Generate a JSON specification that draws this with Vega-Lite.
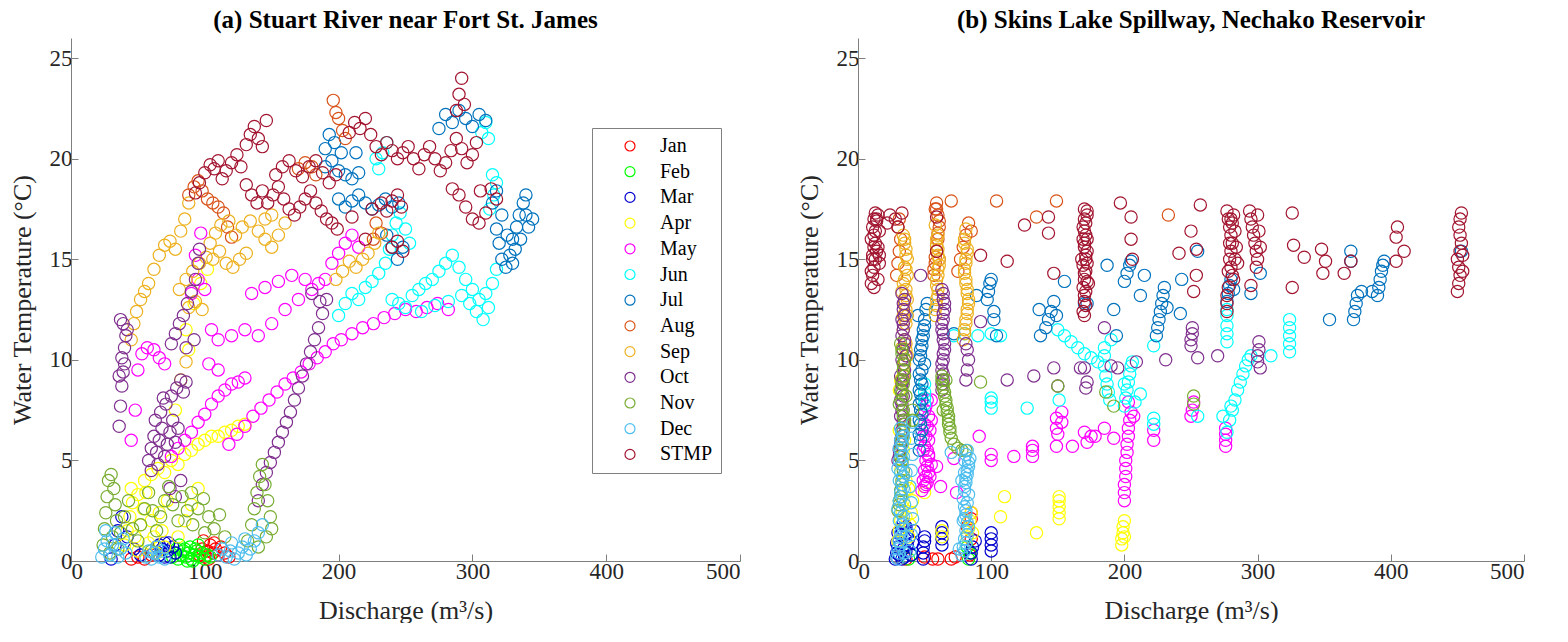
{
"$schema":"https://vega.github.io/schema/vega-lite/v6.json",
"background":"white",
"padding":{"left":9,"top":8,"right":0,"bottom":0},
"spacing":55,
"config":{"font":"Liberation Serif","view":{"stroke":null},
"axis":{"grid":false,"domainColor":"#7f7f7f","tickColor":"#7f7f7f","tickSize":-7,"labelFont":"Liberation Serif","labelFontSize":23,"labelColor":"#262626","titleFont":"Liberation Serif","titleFontSize":26,"titleFontWeight":"normal","titleColor":"#262626"},
"title":{"font":"Liberation Serif","fontSize":25,"fontWeight":"bold","color":"#000","offset":5}},
"datasets":{
"a":[
{"m":"Jan","q":96,"t":0.3},{"m":"Jan","q":98,"t":0.6},{"m":"Jan","q":100,"t":0.2},{"m":"Jan","q":102,"t":0.5},{"m":"Jan","q":104,"t":0.8},{"m":"Jan","q":106,"t":0.4},{"m":"Jan","q":108,"t":0.6},{"m":"Jan","q":110,"t":0.3},{"m":"Jan","q":112,"t":0.7},{"m":"Jan","q":99,"t":1.0},{"m":"Jan","q":103,"t":0.1},{"m":"Jan","q":107,"t":0.9},{"m":"Jan","q":45,"t":0.1},{"m":"Jan","q":50,"t":0.2},{"m":"Jan","q":55,"t":0.1},{"m":"Jan","q":115,"t":0.4},{"m":"Jan","q":118,"t":0.2},{"m":"Jan","q":60,"t":0.3},
{"m":"Feb","q":76,"t":0.2},{"m":"Feb","q":78,"t":0.4},{"m":"Feb","q":80,"t":0.1},{"m":"Feb","q":82,"t":0.3},{"m":"Feb","q":84,"t":0.5},{"m":"Feb","q":86,"t":0.2},{"m":"Feb","q":88,"t":0.4},{"m":"Feb","q":90,"t":0.1},{"m":"Feb","q":92,"t":0.3},{"m":"Feb","q":94,"t":0.5},{"m":"Feb","q":96,"t":0.2},{"m":"Feb","q":98,"t":0.4},{"m":"Feb","q":100,"t":0.1},{"m":"Feb","q":102,"t":0.3},{"m":"Feb","q":85,"t":0.6},{"m":"Feb","q":89,"t":0.7},{"m":"Feb","q":93,"t":0.6},{"m":"Feb","q":79,"t":0.6},{"m":"Feb","q":91,"t":0.0},{"m":"Feb","q":87,"t":0.0},{"m":"Feb","q":95,"t":0.8},{"m":"Feb","q":104,"t":0.2},{"m":"Feb","q":81,"t":0.8},
{"m":"Mar","q":62,"t":0.4},{"m":"Mar","q":64,"t":0.7},{"m":"Mar","q":66,"t":0.3},{"m":"Mar","q":68,"t":0.6},{"m":"Mar","q":70,"t":0.9},{"m":"Mar","q":72,"t":0.5},{"m":"Mar","q":74,"t":0.2},{"m":"Mar","q":76,"t":0.7},{"m":"Mar","q":70,"t":0.2},{"m":"Mar","q":66,"t":0.8},{"m":"Mar","q":73,"t":0.9},{"m":"Mar","q":78,"t":0.4},{"m":"Mar","q":30,"t":0.1},{"m":"Mar","q":33,"t":0.8},{"m":"Mar","q":35,"t":1.5},{"m":"Mar","q":38,"t":2.2},{"m":"Mar","q":42,"t":1.2},{"m":"Mar","q":47,"t":0.6},{"m":"Mar","q":52,"t":0.3},
{"m":"Apr","q":40,"t":0.8},{"m":"Apr","q":42,"t":1.5},{"m":"Apr","q":44,"t":2.2},{"m":"Apr","q":46,"t":2.9},{"m":"Apr","q":48,"t":1.2},{"m":"Apr","q":50,"t":0.5},{"m":"Apr","q":52,"t":1.8},{"m":"Apr","q":54,"t":2.6},{"m":"Apr","q":56,"t":3.4},{"m":"Apr","q":58,"t":0.9},{"m":"Apr","q":60,"t":2.0},{"m":"Apr","q":62,"t":1.2},{"m":"Apr","q":64,"t":0.4},{"m":"Apr","q":66,"t":2.4},{"m":"Apr","q":68,"t":1.5},{"m":"Apr","q":70,"t":0.7},{"m":"Apr","q":72,"t":3.0},{"m":"Apr","q":45,"t":3.6},{"m":"Apr","q":50,"t":3.3},{"m":"Apr","q":55,"t":4.0},{"m":"Apr","q":60,"t":4.3},{"m":"Apr","q":65,"t":4.6},{"m":"Apr","q":70,"t":4.4},{"m":"Apr","q":75,"t":5.0},{"m":"Apr","q":80,"t":4.8},{"m":"Apr","q":85,"t":5.3},{"m":"Apr","q":90,"t":5.5},{"m":"Apr","q":95,"t":5.8},{"m":"Apr","q":100,"t":6.0},{"m":"Apr","q":105,"t":6.2},{"m":"Apr","q":110,"t":6.2},{"m":"Apr","q":115,"t":6.4},{"m":"Apr","q":120,"t":6.5},{"m":"Apr","q":125,"t":6.7},{"m":"Apr","q":130,"t":6.8},{"m":"Apr","q":80,"t":1.2},{"m":"Apr","q":85,"t":2.0},{"m":"Apr","q":90,"t":2.8},{"m":"Apr","q":95,"t":3.6},{"m":"Apr","q":78,"t":7.5},{"m":"Apr","q":82,"t":9.0},{"m":"Apr","q":88,"t":10.5},{"m":"Apr","q":92,"t":12.8},{"m":"Apr","q":97,"t":13.8},{"m":"Apr","q":102,"t":14.5},{"m":"Apr","q":86,"t":11.5},
{"m":"May","q":45,"t":6.0},{"m":"May","q":48,"t":7.5},{"m":"May","q":50,"t":9.5},{"m":"May","q":53,"t":10.3},{"m":"May","q":57,"t":10.6},{"m":"May","q":62,"t":10.5},{"m":"May","q":66,"t":10.1},{"m":"May","q":70,"t":9.8},
{"m":"May","q":75,"t":5.2},{"m":"May","q":80,"t":5.6},{"m":"May","q":85,"t":6.0},{"m":"May","q":90,"t":6.4},{"m":"May","q":95,"t":6.9},{"m":"May","q":100,"t":7.3},{"m":"May","q":105,"t":7.8},{"m":"May","q":110,"t":8.2},{"m":"May","q":115,"t":8.5},{"m":"May","q":120,"t":8.8},{"m":"May","q":125,"t":8.9},{"m":"May","q":130,"t":9.1},
{"m":"May","q":118,"t":5.8},{"m":"May","q":124,"t":6.3},{"m":"May","q":130,"t":6.7},{"m":"May","q":136,"t":7.2},{"m":"May","q":142,"t":7.6},{"m":"May","q":148,"t":8.0},{"m":"May","q":154,"t":8.4},{"m":"May","q":160,"t":8.8},{"m":"May","q":166,"t":9.1},{"m":"May","q":172,"t":9.4},{"m":"May","q":178,"t":9.8},{"m":"May","q":184,"t":10.1},{"m":"May","q":190,"t":10.4},{"m":"May","q":196,"t":10.8},{"m":"May","q":202,"t":11.0},{"m":"May","q":210,"t":11.3},{"m":"May","q":218,"t":11.6},{"m":"May","q":226,"t":11.8},{"m":"May","q":234,"t":12.1},{"m":"May","q":242,"t":12.3},{"m":"May","q":250,"t":12.5},{"m":"May","q":258,"t":12.4},{"m":"May","q":266,"t":12.6},{"m":"May","q":274,"t":12.8},{"m":"May","q":282,"t":12.5},
{"m":"May","q":90,"t":13.3},{"m":"May","q":95,"t":14.0},{"m":"May","q":100,"t":13.5},{"m":"May","q":105,"t":11.5},{"m":"May","q":110,"t":11.0},{"m":"May","q":120,"t":11.2},{"m":"May","q":130,"t":11.5},{"m":"May","q":140,"t":11.2},{"m":"May","q":150,"t":11.8},{"m":"May","q":160,"t":12.5},{"m":"May","q":170,"t":13.0},{"m":"May","q":180,"t":13.5},{"m":"May","q":190,"t":14.0},{"m":"May","q":195,"t":14.8},{"m":"May","q":200,"t":15.3},{"m":"May","q":205,"t":15.8},{"m":"May","q":210,"t":16.2},{"m":"May","q":215,"t":15.6},{"m":"May","q":135,"t":13.3},{"m":"May","q":145,"t":13.6},{"m":"May","q":155,"t":13.9},{"m":"May","q":165,"t":14.2},{"m":"May","q":175,"t":14.0},{"m":"May","q":185,"t":13.8},{"m":"May","q":97,"t":16.3},{"m":"May","q":93,"t":15.2},{"m":"May","q":103,"t":9.8},{"m":"May","q":110,"t":9.5},
{"m":"Jun","q":200,"t":12.2},{"m":"Jun","q":205,"t":12.8},{"m":"Jun","q":210,"t":13.3},{"m":"Jun","q":215,"t":13.0},{"m":"Jun","q":220,"t":13.6},{"m":"Jun","q":225,"t":13.9},{"m":"Jun","q":230,"t":14.3},{"m":"Jun","q":235,"t":14.8},{"m":"Jun","q":238,"t":15.5},{"m":"Jun","q":240,"t":16.2},{"m":"Jun","q":243,"t":16.8},{"m":"Jun","q":246,"t":17.3},{"m":"Jun","q":250,"t":16.5},{"m":"Jun","q":253,"t":15.8},{"m":"Jun","q":230,"t":19.5},{"m":"Jun","q":233,"t":20.3},{"m":"Jun","q":236,"t":20.8},{"m":"Jun","q":228,"t":20.0},{"m":"Jun","q":240,"t":13.0},{"m":"Jun","q":245,"t":12.8},{"m":"Jun","q":250,"t":12.6},{"m":"Jun","q":255,"t":13.2},{"m":"Jun","q":260,"t":13.5},{"m":"Jun","q":265,"t":13.8},{"m":"Jun","q":270,"t":14.0},{"m":"Jun","q":275,"t":14.4},{"m":"Jun","q":280,"t":14.8},{"m":"Jun","q":285,"t":15.2},{"m":"Jun","q":290,"t":14.6},{"m":"Jun","q":295,"t":14.0},{"m":"Jun","q":300,"t":13.5},{"m":"Jun","q":305,"t":13.0},{"m":"Jun","q":310,"t":13.3},{"m":"Jun","q":315,"t":13.8},{"m":"Jun","q":292,"t":13.2},{"m":"Jun","q":298,"t":12.8},{"m":"Jun","q":303,"t":12.4},{"m":"Jun","q":308,"t":12.0},{"m":"Jun","q":312,"t":12.6},{"m":"Jun","q":318,"t":14.5},{"m":"Jun","q":313,"t":17.5},{"m":"Jun","q":316,"t":18.2},{"m":"Jun","q":318,"t":18.8},{"m":"Jun","q":315,"t":19.2},{"m":"Jun","q":307,"t":21.3},{"m":"Jun","q":310,"t":21.8},{"m":"Jun","q":312,"t":21.0},{"m":"Jun","q":262,"t":12.4},{"m":"Jun","q":272,"t":12.7},{"m":"Jun","q":282,"t":12.9},
{"m":"Jul","q":190,"t":20.5},{"m":"Jul","q":193,"t":21.2},{"m":"Jul","q":197,"t":20.8},{"m":"Jul","q":202,"t":20.3},{"m":"Jul","q":190,"t":19.6},{"m":"Jul","q":195,"t":19.9},{"m":"Jul","q":200,"t":19.4},{"m":"Jul","q":205,"t":19.2},{"m":"Jul","q":210,"t":19.0},{"m":"Jul","q":215,"t":19.3},{"m":"Jul","q":200,"t":18.0},{"m":"Jul","q":205,"t":17.6},{"m":"Jul","q":210,"t":17.9},{"m":"Jul","q":215,"t":18.2},{"m":"Jul","q":220,"t":17.8},{"m":"Jul","q":225,"t":17.5},{"m":"Jul","q":230,"t":17.7},{"m":"Jul","q":235,"t":18.0},{"m":"Jul","q":240,"t":17.6},{"m":"Jul","q":245,"t":17.8},{"m":"Jul","q":236,"t":16.2},{"m":"Jul","q":240,"t":15.6},{"m":"Jul","q":244,"t":15.0},{"m":"Jul","q":248,"t":15.6},{"m":"Jul","q":275,"t":21.5},{"m":"Jul","q":280,"t":22.2},{"m":"Jul","q":285,"t":21.8},{"m":"Jul","q":290,"t":22.4},{"m":"Jul","q":295,"t":22.0},{"m":"Jul","q":300,"t":21.6},{"m":"Jul","q":305,"t":22.2},{"m":"Jul","q":310,"t":21.9},{"m":"Jul","q":315,"t":17.8},{"m":"Jul","q":318,"t":16.5},{"m":"Jul","q":320,"t":15.8},{"m":"Jul","q":322,"t":15.0},{"m":"Jul","q":325,"t":14.6},{"m":"Jul","q":328,"t":15.2},{"m":"Jul","q":330,"t":16.0},{"m":"Jul","q":333,"t":16.6},{"m":"Jul","q":335,"t":17.2},{"m":"Jul","q":338,"t":17.8},{"m":"Jul","q":340,"t":17.2},{"m":"Jul","q":342,"t":16.6},{"m":"Jul","q":345,"t":17.0},{"m":"Jul","q":330,"t":14.8},{"m":"Jul","q":332,"t":15.5},{"m":"Jul","q":326,"t":16.2},{"m":"Jul","q":336,"t":16.0},{"m":"Jul","q":340,"t":18.2},{"m":"Jul","q":318,"t":18.4},{"m":"Jul","q":322,"t":17.2},{"m":"Jul","q":213,"t":20.3},
{"m":"Aug","q":196,"t":22.9},{"m":"Aug","q":198,"t":22.3},{"m":"Aug","q":200,"t":22.0},{"m":"Aug","q":203,"t":21.4},{"m":"Aug","q":205,"t":21.0},{"m":"Aug","q":88,"t":18.2},{"m":"Aug","q":92,"t":18.6},{"m":"Aug","q":95,"t":18.9},{"m":"Aug","q":98,"t":18.4},{"m":"Aug","q":102,"t":18.0},{"m":"Aug","q":106,"t":17.8},{"m":"Aug","q":110,"t":17.6},{"m":"Aug","q":114,"t":17.3},{"m":"Aug","q":117,"t":16.6},{"m":"Aug","q":120,"t":16.1},{"m":"Aug","q":170,"t":19.5},{"m":"Aug","q":175,"t":19.8},{"m":"Aug","q":180,"t":19.6},{"m":"Aug","q":183,"t":19.2},{"m":"Aug","q":228,"t":16.8},{"m":"Aug","q":232,"t":16.3},{"m":"Aug","q":226,"t":16.0},
{"m":"Sep","q":45,"t":11.0},{"m":"Sep","q":47,"t":11.8},{"m":"Sep","q":49,"t":12.4},{"m":"Sep","q":52,"t":13.0},{"m":"Sep","q":55,"t":13.4},{"m":"Sep","q":58,"t":13.8},{"m":"Sep","q":62,"t":14.5},{"m":"Sep","q":66,"t":15.2},{"m":"Sep","q":70,"t":15.7},{"m":"Sep","q":74,"t":15.9},{"m":"Sep","q":78,"t":15.5},{"m":"Sep","q":82,"t":16.4},{"m":"Sep","q":85,"t":17.0},{"m":"Sep","q":88,"t":17.8},{"m":"Sep","q":81,"t":13.5},{"m":"Sep","q":86,"t":14.0},{"m":"Sep","q":91,"t":14.4},{"m":"Sep","q":96,"t":14.8},{"m":"Sep","q":101,"t":15.1},{"m":"Sep","q":106,"t":15.0},{"m":"Sep","q":111,"t":15.4},{"m":"Sep","q":116,"t":14.8},{"m":"Sep","q":121,"t":14.6},{"m":"Sep","q":126,"t":15.0},{"m":"Sep","q":131,"t":15.3},{"m":"Sep","q":104,"t":15.8},{"m":"Sep","q":108,"t":16.3},{"m":"Sep","q":112,"t":16.7},{"m":"Sep","q":118,"t":16.9},{"m":"Sep","q":123,"t":16.2},{"m":"Sep","q":128,"t":16.6},{"m":"Sep","q":134,"t":16.9},{"m":"Sep","q":140,"t":16.4},{"m":"Sep","q":145,"t":16.0},{"m":"Sep","q":150,"t":15.6},{"m":"Sep","q":155,"t":16.2},{"m":"Sep","q":160,"t":16.8},{"m":"Sep","q":145,"t":17.0},{"m":"Sep","q":150,"t":17.2},{"m":"Sep","q":198,"t":14.0},{"m":"Sep","q":203,"t":14.4},{"m":"Sep","q":208,"t":14.9},{"m":"Sep","q":213,"t":14.6},{"m":"Sep","q":218,"t":15.0},{"m":"Sep","q":222,"t":15.3},{"m":"Sep","q":227,"t":15.8},{"m":"Sep","q":230,"t":16.3},{"m":"Sep","q":88,"t":12.6},{"m":"Sep","q":93,"t":12.9},{"m":"Sep","q":98,"t":12.5},{"m":"Sep","q":86,"t":9.9},
{"m":"Oct","q":36,"t":6.7},{"m":"Oct","q":37,"t":7.7},{"m":"Oct","q":38,"t":8.7},{"m":"Oct","q":39,"t":9.4},{"m":"Oct","q":38,"t":10.1},{"m":"Oct","q":40,"t":10.6},{"m":"Oct","q":41,"t":11.2},{"m":"Oct","q":39,"t":11.8},{"m":"Oct","q":42,"t":11.5},{"m":"Oct","q":37,"t":12.0},{"m":"Oct","q":40,"t":9.8},{"m":"Oct","q":36,"t":9.2},
{"m":"Oct","q":58,"t":5.0},{"m":"Oct","q":60,"t":5.6},{"m":"Oct","q":62,"t":6.2},{"m":"Oct","q":64,"t":5.4},{"m":"Oct","q":66,"t":6.0},{"m":"Oct","q":68,"t":6.6},{"m":"Oct","q":70,"t":5.2},{"m":"Oct","q":72,"t":5.8},{"m":"Oct","q":74,"t":6.4},{"m":"Oct","q":76,"t":7.0},{"m":"Oct","q":63,"t":7.0},{"m":"Oct","q":67,"t":7.4},{"m":"Oct","q":71,"t":7.8},{"m":"Oct","q":75,"t":8.2},{"m":"Oct","q":79,"t":8.6},{"m":"Oct","q":82,"t":9.0},{"m":"Oct","q":84,"t":8.4},{"m":"Oct","q":86,"t":8.9},{"m":"Oct","q":60,"t":4.5},{"m":"Oct","q":65,"t":4.8},{"m":"Oct","q":78,"t":5.9},{"m":"Oct","q":80,"t":6.6},{"m":"Oct","q":69,"t":8.1},{"m":"Oct","q":74,"t":3.6},{"m":"Oct","q":78,"t":3.2},{"m":"Oct","q":82,"t":4.0},
{"m":"Oct","q":75,"t":10.8},{"m":"Oct","q":78,"t":11.3},{"m":"Oct","q":81,"t":11.8},{"m":"Oct","q":84,"t":12.2},{"m":"Oct","q":87,"t":12.8},{"m":"Oct","q":90,"t":13.4},{"m":"Oct","q":93,"t":14.0},{"m":"Oct","q":95,"t":14.8},{"m":"Oct","q":96,"t":15.5},{"m":"Oct","q":86,"t":10.6},{"m":"Oct","q":92,"t":11.0},
{"m":"Oct","q":140,"t":3.0},{"m":"Oct","q":143,"t":3.8},{"m":"Oct","q":146,"t":4.4},{"m":"Oct","q":149,"t":4.9},{"m":"Oct","q":152,"t":5.4},{"m":"Oct","q":155,"t":5.9},{"m":"Oct","q":158,"t":6.4},{"m":"Oct","q":161,"t":6.9},{"m":"Oct","q":164,"t":7.4},{"m":"Oct","q":167,"t":8.0},{"m":"Oct","q":170,"t":8.6},{"m":"Oct","q":173,"t":9.2},{"m":"Oct","q":176,"t":9.8},{"m":"Oct","q":179,"t":10.4},{"m":"Oct","q":182,"t":11.0},{"m":"Oct","q":185,"t":11.6},{"m":"Oct","q":188,"t":12.3},{"m":"Oct","q":191,"t":13.0},{"m":"Oct","q":186,"t":12.9},{"m":"Oct","q":180,"t":13.3},
{"m":"Nov","q":24,"t":0.8},{"m":"Nov","q":25,"t":1.6},{"m":"Nov","q":26,"t":2.4},{"m":"Nov","q":27,"t":3.2},{"m":"Nov","q":28,"t":4.0},{"m":"Nov","q":30,"t":4.3},{"m":"Nov","q":32,"t":3.6},{"m":"Nov","q":33,"t":2.8},{"m":"Nov","q":34,"t":2.0},{"m":"Nov","q":31,"t":1.2},{"m":"Nov","q":35,"t":0.6},{"m":"Nov","q":29,"t":0.4},{"m":"Nov","q":37,"t":1.4},{"m":"Nov","q":40,"t":2.2},{"m":"Nov","q":43,"t":3.0},{"m":"Nov","q":46,"t":1.6},{"m":"Nov","q":50,"t":1.0},{"m":"Nov","q":52,"t":1.8},{"m":"Nov","q":55,"t":2.6},{"m":"Nov","q":58,"t":3.4},{"m":"Nov","q":61,"t":2.5},{"m":"Nov","q":64,"t":1.5},{"m":"Nov","q":67,"t":2.2},{"m":"Nov","q":70,"t":3.0},{"m":"Nov","q":73,"t":3.7},{"m":"Nov","q":76,"t":2.8},{"m":"Nov","q":80,"t":2.0},{"m":"Nov","q":83,"t":3.2},{"m":"Nov","q":87,"t":2.5},{"m":"Nov","q":91,"t":1.8},{"m":"Nov","q":95,"t":2.6},{"m":"Nov","q":99,"t":3.1},{"m":"Nov","q":103,"t":2.2},{"m":"Nov","q":107,"t":1.6},{"m":"Nov","q":111,"t":2.3},{"m":"Nov","q":100,"t":1.4},{"m":"Nov","q":90,"t":3.4},{"m":"Nov","q":132,"t":1.0},{"m":"Nov","q":135,"t":1.8},{"m":"Nov","q":137,"t":2.6},{"m":"Nov","q":139,"t":3.4},{"m":"Nov","q":141,"t":4.2},{"m":"Nov","q":143,"t":4.8},{"m":"Nov","q":145,"t":3.8},{"m":"Nov","q":147,"t":3.0},{"m":"Nov","q":149,"t":2.2},{"m":"Nov","q":150,"t":1.6},{"m":"Nov","q":146,"t":1.2},{"m":"Nov","q":140,"t":0.7},{"m":"Nov","q":60,"t":0.5},{"m":"Nov","q":115,"t":1.2},
{"m":"Dec","q":23,"t":0.2},{"m":"Dec","q":25,"t":0.6},{"m":"Dec","q":27,"t":1.0},{"m":"Dec","q":29,"t":0.3},{"m":"Dec","q":31,"t":0.8},{"m":"Dec","q":33,"t":1.4},{"m":"Dec","q":35,"t":0.2},{"m":"Dec","q":37,"t":0.6},{"m":"Dec","q":39,"t":1.1},{"m":"Dec","q":41,"t":0.4},{"m":"Dec","q":26,"t":1.5},{"m":"Dec","q":56,"t":0.2},{"m":"Dec","q":58,"t":0.5},{"m":"Dec","q":60,"t":0.1},{"m":"Dec","q":62,"t":0.4},{"m":"Dec","q":64,"t":0.7},{"m":"Dec","q":66,"t":0.2},{"m":"Dec","q":68,"t":0.5},{"m":"Dec","q":70,"t":0.1},{"m":"Dec","q":110,"t":0.3},{"m":"Dec","q":113,"t":0.6},{"m":"Dec","q":116,"t":0.2},{"m":"Dec","q":119,"t":0.5},{"m":"Dec","q":122,"t":0.1},{"m":"Dec","q":125,"t":0.4},{"m":"Dec","q":128,"t":0.7},{"m":"Dec","q":131,"t":0.3},{"m":"Dec","q":134,"t":0.6},{"m":"Dec","q":137,"t":1.0},{"m":"Dec","q":140,"t":1.4},{"m":"Dec","q":143,"t":1.8},{"m":"Dec","q":130,"t":1.1},{"m":"Dec","q":120,"t":0.9},
{"m":"STMP","q":93,"t":18.3},{"m":"STMP","q":96,"t":18.8},{"m":"STMP","q":100,"t":19.3},{"m":"STMP","q":104,"t":19.7},{"m":"STMP","q":107,"t":19.5},{"m":"STMP","q":110,"t":19.9},{"m":"STMP","q":113,"t":19.0},{"m":"STMP","q":116,"t":19.4},{"m":"STMP","q":120,"t":19.8},{"m":"STMP","q":124,"t":20.2},{"m":"STMP","q":127,"t":19.6},{"m":"STMP","q":131,"t":20.7},{"m":"STMP","q":134,"t":21.2},{"m":"STMP","q":137,"t":21.6},{"m":"STMP","q":140,"t":21.0},{"m":"STMP","q":143,"t":20.6},{"m":"STMP","q":146,"t":21.9},{"m":"STMP","q":131,"t":18.7},{"m":"STMP","q":135,"t":18.2},{"m":"STMP","q":139,"t":17.8},{"m":"STMP","q":143,"t":18.4},{"m":"STMP","q":147,"t":17.8},{"m":"STMP","q":151,"t":18.2},{"m":"STMP","q":155,"t":18.6},{"m":"STMP","q":159,"t":18.0},{"m":"STMP","q":163,"t":17.5},{"m":"STMP","q":167,"t":17.2},{"m":"STMP","q":171,"t":17.6},{"m":"STMP","q":175,"t":18.0},{"m":"STMP","q":179,"t":18.4},{"m":"STMP","q":183,"t":17.8},{"m":"STMP","q":187,"t":17.4},{"m":"STMP","q":191,"t":17.0},{"m":"STMP","q":195,"t":16.8},{"m":"STMP","q":199,"t":16.5},{"m":"STMP","q":153,"t":19.2},{"m":"STMP","q":158,"t":19.6},{"m":"STMP","q":163,"t":19.9},{"m":"STMP","q":168,"t":19.4},{"m":"STMP","q":173,"t":19.1},{"m":"STMP","q":178,"t":19.6},{"m":"STMP","q":183,"t":19.9},{"m":"STMP","q":188,"t":19.3},{"m":"STMP","q":193,"t":18.8},{"m":"STMP","q":198,"t":19.2},{"m":"STMP","q":208,"t":21.3},{"m":"STMP","q":212,"t":21.8},{"m":"STMP","q":216,"t":21.5},{"m":"STMP","q":220,"t":22.0},{"m":"STMP","q":224,"t":21.2},{"m":"STMP","q":228,"t":20.6},{"m":"STMP","q":232,"t":20.2},{"m":"STMP","q":236,"t":20.8},{"m":"STMP","q":240,"t":20.4},{"m":"STMP","q":244,"t":20.0},{"m":"STMP","q":248,"t":20.3},{"m":"STMP","q":252,"t":20.6},{"m":"STMP","q":232,"t":17.8},{"m":"STMP","q":236,"t":17.4},{"m":"STMP","q":240,"t":17.9},{"m":"STMP","q":244,"t":18.2},{"m":"STMP","q":247,"t":17.6},{"m":"STMP","q":240,"t":15.6},{"m":"STMP","q":244,"t":15.9},{"m":"STMP","q":248,"t":15.4},{"m":"STMP","q":256,"t":20.0},{"m":"STMP","q":260,"t":19.5},{"m":"STMP","q":264,"t":20.2},{"m":"STMP","q":268,"t":20.6},{"m":"STMP","q":272,"t":20.0},{"m":"STMP","q":276,"t":19.4},{"m":"STMP","q":280,"t":19.8},{"m":"STMP","q":284,"t":20.4},{"m":"STMP","q":288,"t":21.0},{"m":"STMP","q":292,"t":20.5},{"m":"STMP","q":296,"t":19.8},{"m":"STMP","q":300,"t":20.2},{"m":"STMP","q":303,"t":20.8},{"m":"STMP","q":290,"t":23.2},{"m":"STMP","q":292,"t":24.0},{"m":"STMP","q":294,"t":22.7},{"m":"STMP","q":288,"t":22.4},{"m":"STMP","q":285,"t":18.5},{"m":"STMP","q":290,"t":18.2},{"m":"STMP","q":295,"t":17.6},{"m":"STMP","q":300,"t":17.0},{"m":"STMP","q":305,"t":16.8},{"m":"STMP","q":310,"t":17.3},{"m":"STMP","q":306,"t":18.4},{"m":"STMP","q":314,"t":18.5},{"m":"STMP","q":318,"t":18.0},{"m":"STMP","q":220,"t":16.0},{"m":"STMP","q":225,"t":17.5},{"m":"STMP","q":210,"t":17.1}
],
"b":[
{"m":"Jan","q":56,"t":0.1},{"m":"Jan","q":60,"t":0.1},{"m":"Jan","q":70,"t":0.1},{"m":"Jan","q":73,"t":0.2},{"m":"Jan","q":85,"t":2.1},{"m":"Jan","q":85,"t":2.4},{"m":"Jan","q":85,"t":1.1},{"m":"Jan","q":82,"t":1.7},{"m":"Jan","q":84,"t":0.3},{"m":"Jan","q":29,"t":0.2},{"m":"Jan","q":36,"t":0.1},{"m":"Jan","q":50,"t":0.2},
{"m":"Feb","q":83,"t":0.1},{"m":"Feb","q":84,"t":0.4},{"m":"Feb","q":40,"t":0.3},{"m":"Feb","q":38,"t":0.1},{"m":"Feb","q":82,"t":0.7},
{"m":"Mar","q":28,"t":0.1},{"m":"Mar","q":29,"t":0.4},{"m":"Mar","q":30,"t":0.7},{"m":"Mar","q":31,"t":1.0},{"m":"Mar","q":32,"t":1.3},{"m":"Mar","q":33,"t":1.6},{"m":"Mar","q":34,"t":1.9},{"m":"Mar","q":35,"t":0.2},{"m":"Mar","q":36,"t":0.5},{"m":"Mar","q":37,"t":0.8},{"m":"Mar","q":38,"t":1.1},{"m":"Mar","q":30,"t":1.4},{"m":"Mar","q":33,"t":0.1},{"m":"Mar","q":36,"t":1.7},{"m":"Mar","q":40,"t":0.3},{"m":"Mar","q":41,"t":0.9},{"m":"Mar","q":42,"t":1.5},{"m":"Mar","q":29,"t":0.9},{"m":"Mar","q":31,"t":0.3},{"m":"Mar","q":34,"t":0.6},{"m":"Mar","q":37,"t":1.4},{"m":"Mar","q":49,"t":0.1},{"m":"Mar","q":49,"t":0.4},{"m":"Mar","q":49,"t":0.7},{"m":"Mar","q":50,"t":1.0},{"m":"Mar","q":50,"t":1.2},{"m":"Mar","q":63,"t":0.8},{"m":"Mar","q":63,"t":1.1},{"m":"Mar","q":63,"t":1.4},{"m":"Mar","q":63,"t":1.7},{"m":"Mar","q":85,"t":0.1},{"m":"Mar","q":85,"t":0.4},{"m":"Mar","q":86,"t":0.7},{"m":"Mar","q":88,"t":1.0},{"m":"Mar","q":100,"t":0.5},{"m":"Mar","q":100,"t":0.8},{"m":"Mar","q":100,"t":1.1},{"m":"Mar","q":100,"t":1.4},
{"m":"Apr","q":30,"t":1.0},{"m":"Apr","q":31,"t":1.5},{"m":"Apr","q":32,"t":2.0},{"m":"Apr","q":33,"t":2.5},{"m":"Apr","q":34,"t":3.0},{"m":"Apr","q":35,"t":3.5},{"m":"Apr","q":36,"t":4.0},{"m":"Apr","q":32,"t":4.5},{"m":"Apr","q":33,"t":5.0},{"m":"Apr","q":34,"t":5.5},{"m":"Apr","q":35,"t":6.0},{"m":"Apr","q":31,"t":6.5},{"m":"Apr","q":38,"t":1.2},{"m":"Apr","q":39,"t":1.8},{"m":"Apr","q":40,"t":2.4},{"m":"Apr","q":41,"t":3.0},{"m":"Apr","q":38,"t":3.6},{"m":"Apr","q":36,"t":2.2},{"m":"Apr","q":31,"t":8.5},{"m":"Apr","q":32,"t":9.0},{"m":"Apr","q":50,"t":3.4},{"m":"Apr","q":50,"t":3.7},{"m":"Apr","q":63,"t":1.2},{"m":"Apr","q":63,"t":1.5},{"m":"Apr","q":82,"t":1.2},{"m":"Apr","q":83,"t":1.6},{"m":"Apr","q":84,"t":2.0},{"m":"Apr","q":85,"t":2.4},{"m":"Apr","q":86,"t":1.4},{"m":"Apr","q":107,"t":2.2},{"m":"Apr","q":110,"t":3.2},{"m":"Apr","q":134,"t":1.4},{"m":"Apr","q":151,"t":2.1},{"m":"Apr","q":151,"t":2.4},{"m":"Apr","q":151,"t":2.7},{"m":"Apr","q":151,"t":3.0},{"m":"Apr","q":151,"t":3.2},{"m":"Apr","q":198,"t":0.8},{"m":"Apr","q":198,"t":1.1},{"m":"Apr","q":199,"t":1.4},{"m":"Apr","q":199,"t":1.7},{"m":"Apr","q":200,"t":2.0},{"m":"Apr","q":200,"t":1.2},
{"m":"May","q":48,"t":3.5},{"m":"May","q":49,"t":4.0},{"m":"May","q":50,"t":4.5},{"m":"May","q":51,"t":5.0},{"m":"May","q":52,"t":5.5},{"m":"May","q":53,"t":6.0},{"m":"May","q":54,"t":6.5},{"m":"May","q":55,"t":7.0},{"m":"May","q":50,"t":7.5},{"m":"May","q":52,"t":8.0},{"m":"May","q":49,"t":6.2},{"m":"May","q":54,"t":4.2},{"m":"May","q":51,"t":3.8},{"m":"May","q":53,"t":5.3},{"m":"May","q":50,"t":6.8},{"m":"May","q":55,"t":4.8},{"m":"May","q":50,"t":3.7},{"m":"May","q":51,"t":4.2},{"m":"May","q":52,"t":4.7},{"m":"May","q":53,"t":5.2},{"m":"May","q":50,"t":5.7},{"m":"May","q":51,"t":6.2},{"m":"May","q":52,"t":6.7},{"m":"May","q":53,"t":7.2},{"m":"May","q":51,"t":7.7},{"m":"May","q":49,"t":5.5},{"m":"May","q":52,"t":3.9},{"m":"May","q":53,"t":4.4},{"m":"May","q":59,"t":4.7},{"m":"May","q":62,"t":3.7},{"m":"May","q":74,"t":3.4},{"m":"May","q":72,"t":5.1},{"m":"May","q":91,"t":6.2},{"m":"May","q":100,"t":5.3},{"m":"May","q":100,"t":5.0},{"m":"May","q":117,"t":5.2},{"m":"May","q":131,"t":5.2},{"m":"May","q":131,"t":5.5},{"m":"May","q":131,"t":5.7},{"m":"May","q":149,"t":5.7},{"m":"May","q":149,"t":6.6},{"m":"May","q":149,"t":7.1},{"m":"May","q":150,"t":6.3},{"m":"May","q":153,"t":6.9},{"m":"May","q":153,"t":7.4},{"m":"May","q":161,"t":5.7},{"m":"May","q":170,"t":6.4},{"m":"May","q":175,"t":6.2},{"m":"May","q":172,"t":5.9},{"m":"May","q":185,"t":6.6},{"m":"May","q":178,"t":6.2},{"m":"May","q":192,"t":6.1},{"m":"May","q":200,"t":3.0},{"m":"May","q":200,"t":3.4},{"m":"May","q":200,"t":3.8},{"m":"May","q":201,"t":4.2},{"m":"May","q":201,"t":4.6},{"m":"May","q":201,"t":5.0},{"m":"May","q":202,"t":5.4},{"m":"May","q":202,"t":5.8},{"m":"May","q":203,"t":6.2},{"m":"May","q":203,"t":6.6},{"m":"May","q":204,"t":7.0},{"m":"May","q":205,"t":7.4},{"m":"May","q":203,"t":7.9},{"m":"May","q":207,"t":7.2},{"m":"May","q":222,"t":6.5},{"m":"May","q":222,"t":6.0},{"m":"May","q":250,"t":7.2},{"m":"May","q":251,"t":7.5},{"m":"May","q":252,"t":7.9},{"m":"May","q":276,"t":5.7},{"m":"May","q":276,"t":6.0},{"m":"May","q":276,"t":6.3},{"m":"May","q":276,"t":6.6},{"m":"May","q":55,"t":8.0},
{"m":"Jun","q":50,"t":7.8},{"m":"Jun","q":50,"t":8.1},{"m":"Jun","q":50,"t":8.4},{"m":"Jun","q":50,"t":8.8},{"m":"Jun","q":100,"t":7.6},{"m":"Jun","q":100,"t":7.9},{"m":"Jun","q":100,"t":8.1},{"m":"Jun","q":127,"t":7.6},{"m":"Jun","q":151,"t":8.0},{"m":"Jun","q":72,"t":11.2},{"m":"Jun","q":80,"t":11.3},{"m":"Jun","q":90,"t":11.2},{"m":"Jun","q":100,"t":11.3},{"m":"Jun","q":107,"t":11.2},{"m":"Jun","q":150,"t":11.5},{"m":"Jun","q":155,"t":11.2},{"m":"Jun","q":160,"t":10.9},{"m":"Jun","q":165,"t":10.6},{"m":"Jun","q":170,"t":10.3},{"m":"Jun","q":175,"t":10.1},{"m":"Jun","q":180,"t":9.9},{"m":"Jun","q":185,"t":10.6},{"m":"Jun","q":185,"t":10.2},{"m":"Jun","q":185,"t":9.7},{"m":"Jun","q":186,"t":9.2},{"m":"Jun","q":187,"t":8.8},{"m":"Jun","q":188,"t":8.4},{"m":"Jun","q":189,"t":8.0},{"m":"Jun","q":190,"t":11.0},{"m":"Jun","q":200,"t":7.7},{"m":"Jun","q":201,"t":8.1},{"m":"Jun","q":202,"t":8.5},{"m":"Jun","q":203,"t":8.9},{"m":"Jun","q":204,"t":9.3},{"m":"Jun","q":205,"t":9.7},{"m":"Jun","q":206,"t":9.9},{"m":"Jun","q":200,"t":8.8},{"m":"Jun","q":208,"t":7.9},{"m":"Jun","q":212,"t":8.3},{"m":"Jun","q":222,"t":10.7},{"m":"Jun","q":222,"t":7.1},{"m":"Jun","q":222,"t":6.8},{"m":"Jun","q":255,"t":7.2},{"m":"Jun","q":277,"t":6.4},{"m":"Jun","q":279,"t":7.0},{"m":"Jun","q":281,"t":7.5},{"m":"Jun","q":283,"t":8.0},{"m":"Jun","q":285,"t":8.5},{"m":"Jun","q":287,"t":8.9},{"m":"Jun","q":289,"t":9.3},{"m":"Jun","q":291,"t":9.7},{"m":"Jun","q":293,"t":10.0},{"m":"Jun","q":295,"t":10.2},{"m":"Jun","q":310,"t":10.2},{"m":"Jun","q":277,"t":10.9},{"m":"Jun","q":277,"t":11.3},{"m":"Jun","q":277,"t":11.7},{"m":"Jun","q":277,"t":12.2},{"m":"Jun","q":277,"t":12.5},{"m":"Jun","q":324,"t":10.4},{"m":"Jun","q":324,"t":10.8},{"m":"Jun","q":324,"t":11.2},{"m":"Jun","q":324,"t":11.6},{"m":"Jun","q":324,"t":12.0},{"m":"Jun","q":274,"t":7.2},{"m":"Jun","q":280,"t":7.7},
{"m":"Jul","q":46,"t":5.5},{"m":"Jul","q":47,"t":6.0},{"m":"Jul","q":48,"t":6.5},{"m":"Jul","q":46,"t":7.0},{"m":"Jul","q":47,"t":7.5},{"m":"Jul","q":48,"t":8.0},{"m":"Jul","q":46,"t":8.5},{"m":"Jul","q":47,"t":9.0},{"m":"Jul","q":48,"t":9.5},{"m":"Jul","q":46,"t":10.0},{"m":"Jul","q":47,"t":10.5},{"m":"Jul","q":48,"t":11.0},{"m":"Jul","q":49,"t":11.5},{"m":"Jul","q":50,"t":12.0},{"m":"Jul","q":51,"t":12.5},{"m":"Jul","q":52,"t":12.8},{"m":"Jul","q":45,"t":12.2},{"m":"Jul","q":50,"t":9.8},{"m":"Jul","q":46,"t":6.3},{"m":"Jul","q":47,"t":6.8},{"m":"Jul","q":48,"t":7.3},{"m":"Jul","q":46,"t":7.8},{"m":"Jul","q":47,"t":8.3},{"m":"Jul","q":48,"t":8.8},{"m":"Jul","q":46,"t":9.3},{"m":"Jul","q":47,"t":10.2},{"m":"Jul","q":48,"t":10.7},{"m":"Jul","q":49,"t":11.2},{"m":"Jul","q":50,"t":11.7},{"m":"Jul","q":97,"t":13.0},{"m":"Jul","q":98,"t":13.4},{"m":"Jul","q":99,"t":13.8},{"m":"Jul","q":100,"t":14.0},{"m":"Jul","q":89,"t":13.2},{"m":"Jul","q":102,"t":12.4},{"m":"Jul","q":102,"t":12.0},{"m":"Jul","q":72,"t":11.3},{"m":"Jul","q":104,"t":11.2},{"m":"Jul","q":155,"t":13.9},{"m":"Jul","q":136,"t":12.5},{"m":"Jul","q":137,"t":11.2},{"m":"Jul","q":141,"t":11.6},{"m":"Jul","q":143,"t":12.0},{"m":"Jul","q":145,"t":12.4},{"m":"Jul","q":147,"t":12.9},{"m":"Jul","q":149,"t":12.2},{"m":"Jul","q":170,"t":12.8},{"m":"Jul","q":187,"t":14.7},{"m":"Jul","q":200,"t":13.9},{"m":"Jul","q":202,"t":14.3},{"m":"Jul","q":204,"t":14.7},{"m":"Jul","q":205,"t":14.9},{"m":"Jul","q":215,"t":14.2},{"m":"Jul","q":212,"t":13.2},{"m":"Jul","q":192,"t":12.5},{"m":"Jul","q":194,"t":11.2},{"m":"Jul","q":224,"t":11.2},{"m":"Jul","q":225,"t":11.6},{"m":"Jul","q":226,"t":12.0},{"m":"Jul","q":227,"t":12.4},{"m":"Jul","q":228,"t":12.8},{"m":"Jul","q":229,"t":13.2},{"m":"Jul","q":230,"t":13.6},{"m":"Jul","q":232,"t":12.6},{"m":"Jul","q":242,"t":12.3},{"m":"Jul","q":243,"t":14.0},{"m":"Jul","q":255,"t":15.4},{"m":"Jul","q":277,"t":12.9},{"m":"Jul","q":278,"t":13.3},{"m":"Jul","q":279,"t":13.7},{"m":"Jul","q":280,"t":14.0},{"m":"Jul","q":282,"t":13.5},{"m":"Jul","q":302,"t":14.3},{"m":"Jul","q":295,"t":13.3},{"m":"Jul","q":354,"t":12.0},{"m":"Jul","q":370,"t":15.4},{"m":"Jul","q":370,"t":14.9},{"m":"Jul","q":372,"t":12.0},{"m":"Jul","q":373,"t":12.4},{"m":"Jul","q":374,"t":12.8},{"m":"Jul","q":375,"t":13.2},{"m":"Jul","q":378,"t":13.4},{"m":"Jul","q":386,"t":13.4},{"m":"Jul","q":390,"t":13.2},{"m":"Jul","q":391,"t":13.6},{"m":"Jul","q":392,"t":14.0},{"m":"Jul","q":393,"t":14.4},{"m":"Jul","q":394,"t":14.7},{"m":"Jul","q":395,"t":14.9},{"m":"Jul","q":453,"t":15.4},{"m":"Jul","q":172,"t":12.8},
{"m":"Aug","q":57,"t":14.2},{"m":"Aug","q":58,"t":14.8},{"m":"Aug","q":59,"t":15.4},{"m":"Aug","q":60,"t":16.0},{"m":"Aug","q":61,"t":16.6},{"m":"Aug","q":60,"t":17.2},{"m":"Aug","q":59,"t":17.8},{"m":"Aug","q":58,"t":17.5},{"m":"Aug","q":61,"t":15.0},{"m":"Aug","q":57,"t":14.5},{"m":"Aug","q":58,"t":15.1},{"m":"Aug","q":59,"t":15.7},{"m":"Aug","q":60,"t":16.3},{"m":"Aug","q":61,"t":16.9},{"m":"Aug","q":59,"t":17.5},{"m":"Aug","q":29,"t":14.2},{"m":"Aug","q":30,"t":14.8},{"m":"Aug","q":31,"t":15.4},{"m":"Aug","q":32,"t":16.0},{"m":"Aug","q":30,"t":16.6},{"m":"Aug","q":31,"t":17.0},{"m":"Aug","q":70,"t":17.9},{"m":"Aug","q":104,"t":17.9},{"m":"Aug","q":149,"t":17.9},{"m":"Aug","q":134,"t":17.1},{"m":"Aug","q":75,"t":14.4},{"m":"Aug","q":77,"t":15.0},{"m":"Aug","q":79,"t":15.6},{"m":"Aug","q":81,"t":16.2},{"m":"Aug","q":83,"t":16.8},{"m":"Aug","q":85,"t":16.4},{"m":"Aug","q":233,"t":17.2},
{"m":"Sep","q":33,"t":9.0},{"m":"Sep","q":34,"t":9.5},{"m":"Sep","q":35,"t":10.0},{"m":"Sep","q":36,"t":10.5},{"m":"Sep","q":35,"t":11.0},{"m":"Sep","q":34,"t":11.5},{"m":"Sep","q":35,"t":12.0},{"m":"Sep","q":36,"t":12.5},{"m":"Sep","q":37,"t":13.0},{"m":"Sep","q":36,"t":13.5},{"m":"Sep","q":35,"t":14.0},{"m":"Sep","q":36,"t":14.5},{"m":"Sep","q":37,"t":15.0},{"m":"Sep","q":36,"t":15.5},{"m":"Sep","q":35,"t":16.0},{"m":"Sep","q":34,"t":16.2},{"m":"Sep","q":36,"t":11.8},{"m":"Sep","q":37,"t":10.2},{"m":"Sep","q":34,"t":9.2},{"m":"Sep","q":35,"t":9.8},{"m":"Sep","q":36,"t":10.8},{"m":"Sep","q":34,"t":12.2},{"m":"Sep","q":35,"t":12.8},{"m":"Sep","q":36,"t":13.2},{"m":"Sep","q":34,"t":13.8},{"m":"Sep","q":35,"t":14.6},{"m":"Sep","q":36,"t":15.2},{"m":"Sep","q":35,"t":15.8},{"m":"Sep","q":37,"t":14.2},{"m":"Sep","q":37,"t":12.2},{"m":"Sep","q":33,"t":10.6},{"m":"Sep","q":33,"t":13.4},{"m":"Sep","q":58,"t":12.2},{"m":"Sep","q":59,"t":12.7},{"m":"Sep","q":60,"t":13.2},{"m":"Sep","q":59,"t":13.7},{"m":"Sep","q":60,"t":14.2},{"m":"Sep","q":61,"t":14.7},{"m":"Sep","q":60,"t":15.2},{"m":"Sep","q":59,"t":15.7},{"m":"Sep","q":60,"t":16.2},{"m":"Sep","q":58,"t":16.7},{"m":"Sep","q":58,"t":12.5},{"m":"Sep","q":59,"t":13.0},{"m":"Sep","q":60,"t":13.5},{"m":"Sep","q":59,"t":14.0},{"m":"Sep","q":60,"t":14.5},{"m":"Sep","q":61,"t":15.0},{"m":"Sep","q":60,"t":15.5},{"m":"Sep","q":59,"t":16.0},{"m":"Sep","q":79,"t":11.0},{"m":"Sep","q":80,"t":11.5},{"m":"Sep","q":81,"t":12.0},{"m":"Sep","q":82,"t":12.5},{"m":"Sep","q":83,"t":13.0},{"m":"Sep","q":82,"t":13.5},{"m":"Sep","q":81,"t":14.0},{"m":"Sep","q":80,"t":14.5},{"m":"Sep","q":81,"t":15.0},{"m":"Sep","q":82,"t":15.5},{"m":"Sep","q":80,"t":16.0},{"m":"Sep","q":81,"t":16.5},{"m":"Sep","q":80,"t":11.3},{"m":"Sep","q":81,"t":11.8},{"m":"Sep","q":82,"t":12.3},{"m":"Sep","q":83,"t":12.8},{"m":"Sep","q":82,"t":13.3},{"m":"Sep","q":81,"t":13.8},{"m":"Sep","q":80,"t":14.3},{"m":"Sep","q":81,"t":14.8},{"m":"Sep","q":82,"t":15.3},{"m":"Sep","q":80,"t":15.8},
{"m":"Oct","q":30,"t":5.0},{"m":"Oct","q":31,"t":5.5},{"m":"Oct","q":32,"t":6.0},{"m":"Oct","q":33,"t":6.5},{"m":"Oct","q":34,"t":7.0},{"m":"Oct","q":33,"t":7.5},{"m":"Oct","q":32,"t":8.0},{"m":"Oct","q":33,"t":8.5},{"m":"Oct","q":34,"t":9.0},{"m":"Oct","q":35,"t":9.5},{"m":"Oct","q":33,"t":10.0},{"m":"Oct","q":34,"t":10.5},{"m":"Oct","q":35,"t":11.0},{"m":"Oct","q":34,"t":11.5},{"m":"Oct","q":33,"t":12.0},{"m":"Oct","q":34,"t":12.5},{"m":"Oct","q":35,"t":13.0},{"m":"Oct","q":32,"t":9.2},{"m":"Oct","q":36,"t":10.2},{"m":"Oct","q":31,"t":5.2},{"m":"Oct","q":32,"t":5.8},{"m":"Oct","q":33,"t":6.2},{"m":"Oct","q":34,"t":6.8},{"m":"Oct","q":32,"t":7.2},{"m":"Oct","q":33,"t":7.8},{"m":"Oct","q":34,"t":8.2},{"m":"Oct","q":33,"t":8.8},{"m":"Oct","q":34,"t":9.8},{"m":"Oct","q":35,"t":10.8},{"m":"Oct","q":33,"t":11.2},{"m":"Oct","q":34,"t":11.8},{"m":"Oct","q":35,"t":12.2},{"m":"Oct","q":34,"t":12.8},{"m":"Oct","q":33,"t":13.3},{"m":"Oct","q":63,"t":8.5},{"m":"Oct","q":64,"t":9.0},{"m":"Oct","q":63,"t":9.5},{"m":"Oct","q":64,"t":10.0},{"m":"Oct","q":65,"t":10.5},{"m":"Oct","q":64,"t":11.0},{"m":"Oct","q":63,"t":11.5},{"m":"Oct","q":64,"t":12.0},{"m":"Oct","q":65,"t":12.5},{"m":"Oct","q":64,"t":13.0},{"m":"Oct","q":63,"t":13.5},{"m":"Oct","q":63,"t":8.8},{"m":"Oct","q":64,"t":9.3},{"m":"Oct","q":63,"t":9.8},{"m":"Oct","q":64,"t":10.3},{"m":"Oct","q":65,"t":10.8},{"m":"Oct","q":64,"t":11.3},{"m":"Oct","q":63,"t":11.8},{"m":"Oct","q":64,"t":12.3},{"m":"Oct","q":65,"t":12.8},{"m":"Oct","q":64,"t":13.3},{"m":"Oct","q":47,"t":14.2},{"m":"Oct","q":81,"t":9.0},{"m":"Oct","q":82,"t":9.5},{"m":"Oct","q":83,"t":10.0},{"m":"Oct","q":82,"t":10.5},{"m":"Oct","q":81,"t":10.8},{"m":"Oct","q":92,"t":11.9},{"m":"Oct","q":112,"t":9.0},{"m":"Oct","q":132,"t":9.2},{"m":"Oct","q":147,"t":9.6},{"m":"Oct","q":150,"t":8.7},{"m":"Oct","q":167,"t":9.6},{"m":"Oct","q":170,"t":9.6},{"m":"Oct","q":185,"t":11.6},{"m":"Oct","q":190,"t":9.7},{"m":"Oct","q":195,"t":9.6},{"m":"Oct","q":209,"t":9.9},{"m":"Oct","q":231,"t":10.0},{"m":"Oct","q":250,"t":10.7},{"m":"Oct","q":250,"t":11.0},{"m":"Oct","q":251,"t":11.3},{"m":"Oct","q":251,"t":11.6},{"m":"Oct","q":255,"t":10.1},{"m":"Oct","q":270,"t":10.2},{"m":"Oct","q":300,"t":9.9},{"m":"Oct","q":300,"t":10.2},{"m":"Oct","q":301,"t":10.5},{"m":"Oct","q":301,"t":10.9},{"m":"Oct","q":302,"t":9.6},{"m":"Oct","q":171,"t":8.6},{"m":"Oct","q":172,"t":8.9},
{"m":"Nov","q":30,"t":2.5},{"m":"Nov","q":31,"t":3.0},{"m":"Nov","q":32,"t":3.5},{"m":"Nov","q":33,"t":4.0},{"m":"Nov","q":34,"t":4.5},{"m":"Nov","q":33,"t":5.0},{"m":"Nov","q":32,"t":5.5},{"m":"Nov","q":33,"t":6.0},{"m":"Nov","q":34,"t":6.5},{"m":"Nov","q":35,"t":7.0},{"m":"Nov","q":34,"t":7.5},{"m":"Nov","q":33,"t":8.0},{"m":"Nov","q":32,"t":8.5},{"m":"Nov","q":33,"t":9.0},{"m":"Nov","q":34,"t":9.5},{"m":"Nov","q":35,"t":10.0},{"m":"Nov","q":33,"t":10.5},{"m":"Nov","q":31,"t":7.8},{"m":"Nov","q":36,"t":8.2},{"m":"Nov","q":31,"t":2.8},{"m":"Nov","q":32,"t":3.2},{"m":"Nov","q":33,"t":3.8},{"m":"Nov","q":34,"t":4.2},{"m":"Nov","q":33,"t":4.8},{"m":"Nov","q":32,"t":5.2},{"m":"Nov","q":33,"t":5.8},{"m":"Nov","q":34,"t":6.2},{"m":"Nov","q":35,"t":6.8},{"m":"Nov","q":34,"t":7.2},{"m":"Nov","q":33,"t":8.3},{"m":"Nov","q":34,"t":8.8},{"m":"Nov","q":35,"t":9.2},{"m":"Nov","q":34,"t":9.8},{"m":"Nov","q":33,"t":10.3},{"m":"Nov","q":32,"t":10.8},{"m":"Nov","q":63,"t":9.2},{"m":"Nov","q":64,"t":8.8},{"m":"Nov","q":65,"t":8.4},{"m":"Nov","q":66,"t":8.0},{"m":"Nov","q":67,"t":7.6},{"m":"Nov","q":68,"t":7.2},{"m":"Nov","q":68,"t":6.8},{"m":"Nov","q":69,"t":6.4},{"m":"Nov","q":70,"t":6.1},{"m":"Nov","q":72,"t":5.8},{"m":"Nov","q":75,"t":5.6},{"m":"Nov","q":78,"t":5.5},{"m":"Nov","q":81,"t":5.5},{"m":"Nov","q":66,"t":9.0},{"m":"Nov","q":64,"t":7.5},{"m":"Nov","q":63,"t":9.0},{"m":"Nov","q":64,"t":8.6},{"m":"Nov","q":65,"t":8.2},{"m":"Nov","q":66,"t":7.8},{"m":"Nov","q":67,"t":7.4},{"m":"Nov","q":68,"t":7.0},{"m":"Nov","q":69,"t":6.6},{"m":"Nov","q":92,"t":8.9},{"m":"Nov","q":150,"t":8.7},{"m":"Nov","q":186,"t":8.4},{"m":"Nov","q":192,"t":7.7},{"m":"Nov","q":252,"t":8.2},{"m":"Nov","q":252,"t":7.8},{"m":"Nov","q":41,"t":7.0},{"m":"Nov","q":41,"t":7.5},
{"m":"Dec","q":29,"t":0.2},{"m":"Dec","q":30,"t":0.6},{"m":"Dec","q":31,"t":1.0},{"m":"Dec","q":32,"t":1.4},{"m":"Dec","q":33,"t":1.8},{"m":"Dec","q":34,"t":2.2},{"m":"Dec","q":30,"t":2.6},{"m":"Dec","q":31,"t":3.0},{"m":"Dec","q":32,"t":3.4},{"m":"Dec","q":33,"t":3.8},{"m":"Dec","q":34,"t":4.2},{"m":"Dec","q":30,"t":4.6},{"m":"Dec","q":31,"t":5.0},{"m":"Dec","q":32,"t":5.4},{"m":"Dec","q":33,"t":5.8},{"m":"Dec","q":34,"t":6.2},{"m":"Dec","q":32,"t":6.6},{"m":"Dec","q":35,"t":0.4},{"m":"Dec","q":36,"t":1.2},{"m":"Dec","q":35,"t":2.8},{"m":"Dec","q":36,"t":4.4},{"m":"Dec","q":30,"t":0.1},{"m":"Dec","q":31,"t":0.4},{"m":"Dec","q":32,"t":0.8},{"m":"Dec","q":33,"t":1.2},{"m":"Dec","q":34,"t":1.6},{"m":"Dec","q":31,"t":2.0},{"m":"Dec","q":32,"t":2.4},{"m":"Dec","q":33,"t":3.2},{"m":"Dec","q":34,"t":3.6},{"m":"Dec","q":31,"t":4.0},{"m":"Dec","q":32,"t":4.4},{"m":"Dec","q":33,"t":4.8},{"m":"Dec","q":34,"t":5.2},{"m":"Dec","q":31,"t":5.6},{"m":"Dec","q":32,"t":6.0},{"m":"Dec","q":33,"t":6.4},{"m":"Dec","q":39,"t":0.5},{"m":"Dec","q":40,"t":1.3},{"m":"Dec","q":41,"t":2.1},{"m":"Dec","q":40,"t":2.9},{"m":"Dec","q":39,"t":3.7},{"m":"Dec","q":40,"t":4.5},{"m":"Dec","q":41,"t":5.3},{"m":"Dec","q":40,"t":6.1},{"m":"Dec","q":41,"t":6.9},{"m":"Dec","q":78,"t":0.3},{"m":"Dec","q":79,"t":0.7},{"m":"Dec","q":80,"t":1.1},{"m":"Dec","q":81,"t":1.5},{"m":"Dec","q":82,"t":1.9},{"m":"Dec","q":81,"t":2.3},{"m":"Dec","q":80,"t":2.7},{"m":"Dec","q":79,"t":3.1},{"m":"Dec","q":80,"t":3.5},{"m":"Dec","q":81,"t":3.9},{"m":"Dec","q":82,"t":4.3},{"m":"Dec","q":83,"t":4.7},{"m":"Dec","q":84,"t":5.1},{"m":"Dec","q":82,"t":5.5},{"m":"Dec","q":80,"t":5.0},{"m":"Dec","q":70,"t":5.4},{"m":"Dec","q":76,"t":0.6},{"m":"Dec","q":79,"t":2.0},{"m":"Dec","q":78,"t":4.0},{"m":"Dec","q":80,"t":0.5},{"m":"Dec","q":81,"t":0.9},{"m":"Dec","q":82,"t":1.3},{"m":"Dec","q":83,"t":1.7},{"m":"Dec","q":80,"t":2.1},{"m":"Dec","q":81,"t":2.5},{"m":"Dec","q":82,"t":2.9},{"m":"Dec","q":83,"t":3.3},{"m":"Dec","q":80,"t":3.7},{"m":"Dec","q":81,"t":4.1},{"m":"Dec","q":82,"t":4.5},{"m":"Dec","q":83,"t":4.9},{"m":"Dec","q":81,"t":5.3},{"m":"Dec","q":80,"t":4.4},
{"m":"STMP","q":10,"t":13.8},{"m":"STMP","q":11,"t":14.2},{"m":"STMP","q":12,"t":14.6},{"m":"STMP","q":13,"t":15.0},{"m":"STMP","q":14,"t":15.4},{"m":"STMP","q":13,"t":15.8},{"m":"STMP","q":12,"t":16.2},{"m":"STMP","q":11,"t":16.6},{"m":"STMP","q":12,"t":17.0},{"m":"STMP","q":13,"t":17.3},{"m":"STMP","q":15,"t":14.0},{"m":"STMP","q":16,"t":14.8},{"m":"STMP","q":15,"t":15.6},{"m":"STMP","q":16,"t":16.4},{"m":"STMP","q":14,"t":16.9},{"m":"STMP","q":11,"t":15.2},{"m":"STMP","q":12,"t":13.6},{"m":"STMP","q":10,"t":14.4},{"m":"STMP","q":11,"t":15.0},{"m":"STMP","q":12,"t":15.6},{"m":"STMP","q":13,"t":16.4},{"m":"STMP","q":14,"t":17.0},{"m":"STMP","q":10,"t":16.0},{"m":"STMP","q":15,"t":17.2},{"m":"STMP","q":16,"t":15.2},{"m":"STMP","q":22,"t":16.8},{"m":"STMP","q":24,"t":17.2},{"m":"STMP","q":28,"t":17.0},{"m":"STMP","q":30,"t":16.6},{"m":"STMP","q":33,"t":17.3},{"m":"STMP","q":59,"t":17.1},{"m":"STMP","q":59,"t":15.4},{"m":"STMP","q":92,"t":15.2},{"m":"STMP","q":112,"t":14.9},{"m":"STMP","q":125,"t":16.7},{"m":"STMP","q":143,"t":17.1},{"m":"STMP","q":143,"t":16.3},{"m":"STMP","q":147,"t":14.3},{"m":"STMP","q":170,"t":12.2},{"m":"STMP","q":171,"t":12.7},{"m":"STMP","q":170,"t":13.2},{"m":"STMP","q":169,"t":13.6},{"m":"STMP","q":170,"t":14.0},{"m":"STMP","q":171,"t":14.4},{"m":"STMP","q":172,"t":14.8},{"m":"STMP","q":171,"t":15.2},{"m":"STMP","q":170,"t":15.6},{"m":"STMP","q":169,"t":16.0},{"m":"STMP","q":170,"t":16.4},{"m":"STMP","q":171,"t":16.8},{"m":"STMP","q":172,"t":17.2},{"m":"STMP","q":170,"t":17.5},{"m":"STMP","q":173,"t":13.8},{"m":"STMP","q":168,"t":15.0},{"m":"STMP","q":172,"t":16.0},{"m":"STMP","q":169,"t":12.4},{"m":"STMP","q":170,"t":12.9},{"m":"STMP","q":171,"t":13.4},{"m":"STMP","q":172,"t":13.9},{"m":"STMP","q":170,"t":14.3},{"m":"STMP","q":169,"t":14.7},{"m":"STMP","q":171,"t":15.0},{"m":"STMP","q":172,"t":15.4},{"m":"STMP","q":170,"t":15.8},{"m":"STMP","q":171,"t":16.2},{"m":"STMP","q":169,"t":16.6},{"m":"STMP","q":170,"t":17.0},{"m":"STMP","q":172,"t":17.4},{"m":"STMP","q":197,"t":17.8},{"m":"STMP","q":205,"t":17.1},{"m":"STMP","q":205,"t":16.0},{"m":"STMP","q":206,"t":15.0},{"m":"STMP","q":257,"t":17.7},{"m":"STMP","q":250,"t":16.4},{"m":"STMP","q":241,"t":15.3},{"m":"STMP","q":254,"t":15.5},{"m":"STMP","q":254,"t":14.2},{"m":"STMP","q":252,"t":13.4},{"m":"STMP","q":277,"t":17.4},{"m":"STMP","q":278,"t":17.0},{"m":"STMP","q":279,"t":16.6},{"m":"STMP","q":280,"t":16.2},{"m":"STMP","q":281,"t":15.8},{"m":"STMP","q":280,"t":15.4},{"m":"STMP","q":279,"t":15.0},{"m":"STMP","q":280,"t":14.6},{"m":"STMP","q":281,"t":14.2},{"m":"STMP","q":282,"t":17.2},{"m":"STMP","q":283,"t":16.4},{"m":"STMP","q":284,"t":15.6},{"m":"STMP","q":285,"t":14.8},{"m":"STMP","q":278,"t":14.4},{"m":"STMP","q":279,"t":15.8},{"m":"STMP","q":281,"t":16.8},{"m":"STMP","q":283,"t":15.0},{"m":"STMP","q":282,"t":14.0},{"m":"STMP","q":280,"t":17.0},{"m":"STMP","q":277,"t":12.4},{"m":"STMP","q":277,"t":12.8},{"m":"STMP","q":277,"t":13.2},{"m":"STMP","q":278,"t":13.6},{"m":"STMP","q":294,"t":17.4},{"m":"STMP","q":295,"t":17.0},{"m":"STMP","q":296,"t":16.6},{"m":"STMP","q":297,"t":16.2},{"m":"STMP","q":298,"t":15.8},{"m":"STMP","q":299,"t":15.4},{"m":"STMP","q":300,"t":15.0},{"m":"STMP","q":299,"t":14.6},{"m":"STMP","q":300,"t":17.2},{"m":"STMP","q":301,"t":16.4},{"m":"STMP","q":302,"t":15.6},{"m":"STMP","q":295,"t":13.7},{"m":"STMP","q":326,"t":17.3},{"m":"STMP","q":327,"t":15.7},{"m":"STMP","q":335,"t":15.1},{"m":"STMP","q":326,"t":13.6},{"m":"STMP","q":348,"t":15.5},{"m":"STMP","q":351,"t":14.9},{"m":"STMP","q":349,"t":14.3},{"m":"STMP","q":365,"t":14.3},{"m":"STMP","q":370,"t":14.9},{"m":"STMP","q":405,"t":16.6},{"m":"STMP","q":404,"t":16.1},{"m":"STMP","q":410,"t":15.4},{"m":"STMP","q":404,"t":14.9},{"m":"STMP","q":450,"t":13.4},{"m":"STMP","q":451,"t":13.8},{"m":"STMP","q":452,"t":14.2},{"m":"STMP","q":451,"t":14.6},{"m":"STMP","q":450,"t":15.0},{"m":"STMP","q":452,"t":15.4},{"m":"STMP","q":453,"t":15.8},{"m":"STMP","q":452,"t":16.2},{"m":"STMP","q":451,"t":16.6},{"m":"STMP","q":452,"t":17.0},{"m":"STMP","q":453,"t":17.3},{"m":"STMP","q":454,"t":14.4},{"m":"STMP","q":454,"t":15.2}
]},
"hconcat":[
{"width":669,"height":523,"data":{"name":"a"},
"title":{"text":"(a) Stuart River near Fort St. James"},
"mark":{"type":"point","shape":"circle","filled":false,"size":150,"strokeWidth":1.2,"opacity":1},
"encoding":{
"x":{"field":"q","type":"quantitative","scale":{"domain":[0,500],"nice":false},"axis":{"values":[0,100,200,300,400,500],"title":"Discharge (m³/s)","labelPadding":6,"titlePadding":14}},
"y":{"field":"t","type":"quantitative","scale":{"domain":[0,26],"nice":false},"axis":{"values":[0,5,10,15,20,25],"title":"Water Temperature (°C)","labelPadding":6,"titlePadding":14}},
"color":{"field":"m","type":"nominal","scale":{"domain":["Jan","Feb","Mar","Apr","May","Jun","Jul","Aug","Sep","Oct","Nov","Dec","STMP"],"range":["#FF0000","#00FF00","#0000CD","#FFFF00","#FF00FF","#00FFFF","#0072BD","#D95319","#EDB120","#7E2F8E","#77AC30","#4DBEEE","#A2142F"]},
"legend":{"title":null,"orient":"none","legendX":521,"legendY":90,"strokeColor":"#808080","fillColor":"white","padding":8,"labelFont":"Liberation Serif","labelFontSize":20,"labelColor":"#000","symbolType":"circle","symbolSize":100,"symbolStrokeWidth":1.2,"rowPadding":5.7,"symbolOffset":20,"labelOffset":20}}}},
{"width":666,"height":523,"data":{"name":"b"},
"title":{"text":"(b) Skins Lake Spillway, Nechako Reservoir"},
"mark":{"type":"point","shape":"circle","filled":false,"size":150,"strokeWidth":1.2,"opacity":1},
"encoding":{
"x":{"field":"q","type":"quantitative","scale":{"domain":[0,500],"nice":false},"axis":{"values":[0,100,200,300,400,500],"title":"Discharge (m³/s)","labelPadding":6,"titlePadding":14}},
"y":{"field":"t","type":"quantitative","scale":{"domain":[0,26],"nice":false},"axis":{"values":[0,5,10,15,20,25],"title":"Water Temperature (°C)","labelPadding":6,"titlePadding":14}},
"color":{"field":"m","type":"nominal","scale":{"domain":["Jan","Feb","Mar","Apr","May","Jun","Jul","Aug","Sep","Oct","Nov","Dec","STMP"],"range":["#FF0000","#00FF00","#0000CD","#FFFF00","#FF00FF","#00FFFF","#0072BD","#D95319","#EDB120","#7E2F8E","#77AC30","#4DBEEE","#A2142F"]},"legend":null}}}
],
"resolve":{"legend":{"color":"independent"}}
}
